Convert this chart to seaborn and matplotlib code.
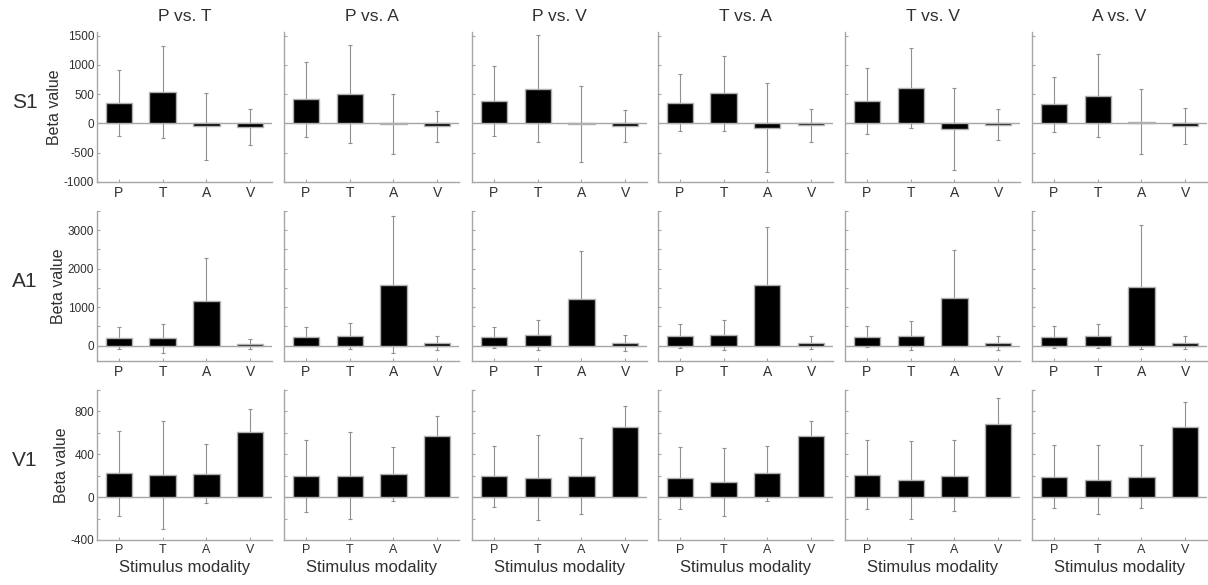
import matplotlib
matplotlib.use("Agg")
import matplotlib.pyplot as plt
import seaborn as sns
import numpy as np

# categories and panel labels
modalities = ["P", "T", "A", "V"]
contrasts = ["P vs. T", "P vs. A", "P vs. V", "T vs. A", "T vs. V", "A vs. V"]
regions = ["S1", "A1", "V1"]

# beta values (mean) and error bars, one list per contrast
s1_mean = [[350, 530, -50, -60], [410, 505, -5, -50], [380, 595, -15, -40],
           [355, 515, -70, -35], [385, 610, -90, -20], [325, 475, 25, -45]]
s1_err = [[565, 785, 570, 305], [645, 835, 510, 265], [600, 920, 645, 277],
          [490, 640, 765, 275], [565, 680, 700, 260], [470, 715, 555, 310]]

a1_mean = [[190, 190, 1165, 52], [233, 250, 1586, 69], [216, 267, 1216, 69],
           [241, 276, 1578, 78], [233, 259, 1241, 69], [216, 250, 1517, 78]]
a1_err = [[285, 375, 1110, 130], [255, 335, 1775, 178], [270, 390, 1232, 198],
          [315, 390, 1510, 177], [270, 385, 1250, 180], [285, 315, 1610, 160]]

v1_mean = [[221, 209, 218, 604], [199, 199, 218, 573], [193, 181, 196, 654],
           [178, 143, 224, 567], [209, 159, 202, 679], [190, 162, 190, 651]]
v1_err = [[400, 505, 275, 218], [337, 405, 252, 181], [288, 396, 357, 200],
          [290, 320, 257, 140], [324, 366, 334, 246], [295, 322, 295, 237]]

row_means = [s1_mean, a1_mean, v1_mean]
row_errs = [s1_err, a1_err, v1_err]
row_ylim = [(-1000, 1560), (-400, 3500), (-400, 1000)]
row_ticks = [np.arange(-1000, 1501, 500), np.arange(0, 3501, 500), np.arange(-400, 1001, 200)]
row_labeled = [[-1000, -500, 0, 500, 1000, 1500], [0, 1000, 2000, 3000], [-400, 0, 400, 800]]

sns.set_style("ticks")
plt.rcParams["font.family"] = ["Liberation Sans", "DejaVu Sans"]

txt = "#303030"
grey = "#a6a6a6"

fig = plt.figure(figsize=(12.08, 5.85), dpi=100)
W, H = 1208, 585
lefts = [97, 284, 472, 658, 845, 1032]
tops = [32, 211, 390]
aw, ah = 175, 150

for r in range(3):
    for c in range(6):
        ax = fig.add_axes([lefts[c] / W, 1 - (tops[r] + ah) / H, aw / W, ah / H])
        means = row_means[r][c]
        errs = row_errs[r][c]
        sns.barplot(x=modalities, y=means, ax=ax, color="black", edgecolor="#b0b0b0",
                    linewidth=1, width=0.6, saturation=1, errorbar=None, zorder=3)
        # error bars sit behind the bars, as in the original figure
        ax.errorbar(np.arange(4), means, yerr=errs, fmt="none", ecolor="#909090",
                    elinewidth=0.8, capsize=1.5, capthick=0.8, zorder=2)
        ax.axhline(0, color=grey, lw=1, zorder=1)
        ax.set_xlim(-0.5, 3.5)
        ax.set_ylim(*row_ylim[r])
        ax.set_yticks(row_ticks[r])
        ax.set_yticklabels([str(t) if t in row_labeled[r] else "" for t in row_ticks[r]])
        for side in ["top", "right"]:
            ax.spines[side].set_visible(False)
        for side in ["left", "bottom"]:
            ax.spines[side].set_color(grey)
            ax.spines[side].set_linewidth(1)
        ax.tick_params(direction="in", length=2, width=0.8, color=grey, pad=2)
        ax.tick_params(axis="x", labelsize=10 if r < 2 else 9, labelcolor=txt, pad=3)
        ax.tick_params(axis="y", labelsize=8.5, labelcolor=txt)
        if c > 0:
            ax.set_yticklabels([])
        if c == 0:
            ax.set_ylabel("Beta value", fontsize=11.5, color=txt, labelpad=1)
        else:
            ax.set_ylabel("")
        if r == 2:
            ax.set_xlabel("Stimulus modality", fontsize=12, color=txt, labelpad=3)
        if r == 0:
            ax.set_title(contrasts[c], fontsize=12.5, color=txt, pad=8)

for r in range(3):
    fig.text(25 / W, 1 - (tops[r] + ah / 2 - 5) / H, regions[r], fontsize=15,
             color=txt, ha="center", va="center")

fig.savefig("out.png", dpi=100, facecolor="white")
